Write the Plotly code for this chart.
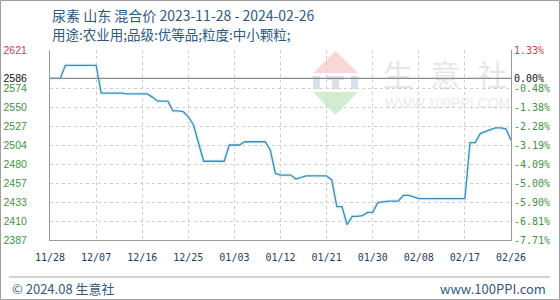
import pandas as pd
import plotly.graph_objects as go

# ---------------- data ----------------
START = "2023-11-28"
END = "2024-02-26"
prices = [2586, 2586, 2586, 2602, 2602, 2602, 2602, 2602, 2602, 2602,
          2568, 2568, 2568, 2568, 2568, 2567, 2567, 2567, 2567, 2567,
          2563, 2558, 2558, 2558, 2546, 2546, 2545, 2539, 2529, 2508,
          2484, 2484, 2484, 2484, 2484, 2504, 2504, 2504, 2508, 2508,
          2508, 2508, 2508, 2498, 2469, 2467, 2467, 2467, 2462, 2464,
          2466, 2466, 2466, 2466, 2466, 2461, 2428, 2428, 2406, 2416,
          2416, 2417, 2421, 2421, 2433, 2434, 2435, 2435, 2435, 2442,
          2442, 2440, 2438, 2438, 2438, 2438, 2438, 2438, 2438, 2438,
          2438, 2438, 2507, 2507, 2518, 2521, 2523, 2525, 2525, 2524,
          2510]
dates = pd.date_range(START, END, freq="D")

BASE = 2586
y_ticks = [2621, 2586, 2574, 2550, 2527, 2504, 2480, 2457, 2433, 2410, 2387]
pct_ticks = ["1.33%", "0.00%", "-0.48%", "-1.38%", "-2.28%", "-3.19%",
             "-4.09%", "-5.00%", "-5.90%", "-6.81%", "-7.71%"]
x_ticks = pd.date_range(START, END, freq="9D")

title1 = "尿素 山东 混合价 2023-11-28 - 2024-02-26"
title2 = "用途:农业用;品级:优等品;粒度:中小颗粒;"
footer_left = "© 2024.08 生意社"
footer_right = "www.100PPI.com"

# ---------------- style ----------------
W, H = 560, 300
L, R, T, B = 50, 511, 50, 240
RED, GREEN, BLACK = "#d23c4c", "#3c963c", "#111111"
NAVY = "#2b5a84"


def col(v, ref):
    if v > ref:
        return RED
    if v == ref:
        return BLACK
    return GREEN


def px(x):
    return (x - L) / (R - L)


def py(y):
    return (B - y) / (B - T)


left_text = [f'<span style="color:{col(v, BASE)}">{v}</span>' for v in y_ticks]
right_text = [f'<span style="color:{col(v, BASE)}">{t}</span>' for v, t in zip(y_ticks, pct_ticks)]

fig = go.Figure()
# soft glow under the line
fig.add_trace(go.Scatter(x=dates, y=prices, mode="lines",
                         line=dict(color="rgba(205,242,252,0.6)", width=4),
                         hoverinfo="skip", showlegend=False))
fig.add_trace(go.Scatter(x=dates, y=prices, mode="lines",
                         line=dict(color="#4288b3", width=1.3),
                         showlegend=False))
# invisible trace to activate right axis
fig.add_trace(go.Scatter(x=[dates[0]], y=[BASE], yaxis="y2", mode="markers",
                         marker=dict(opacity=0), hoverinfo="skip", showlegend=False))

yrange = [min(y_ticks), max(y_ticks)]
fig.update_layout(
    width=W, height=H,
    margin=dict(l=L, r=W - R, t=T, b=H - B, autoexpand=False),
    paper_bgcolor="white", plot_bgcolor="white",
    showlegend=False,
    xaxis=dict(type="date", range=[dates[0], dates[-1]],
               tickvals=x_ticks, tickformat="%m/%d",
               tickfont=dict(family="DejaVu Sans Mono", size=10, color="#1e3c64"),
               showgrid=True, gridcolor="#cfcfcf", griddash="dot", gridwidth=1,
               showline=True, linecolor="#9a9a9a", linewidth=1, automargin=False,
               ticks="", ticklabelstandoff=8, zeroline=False),
    yaxis=dict(range=yrange, tickvals=y_ticks, ticktext=left_text,
               tickfont=dict(family="Liberation Sans", size=10.5),
               showgrid=True, gridcolor="#cfcfcf", griddash="dot", gridwidth=1,
               showline=True, linecolor="#9a9a9a", linewidth=1, automargin=False,
               ticks="", ticklabelstandoff=20, zeroline=False),
    yaxis2=dict(range=yrange, tickvals=y_ticks, ticktext=right_text, overlaying="y",
                side="right", tickfont=dict(family="DejaVu Sans Mono", size=10),
                showgrid=False, showline=True, linecolor="#9a9a9a", linewidth=1,
                automargin=False, ticks="", zeroline=False),
)

shapes = []
# baseline
shapes.append(dict(type="line", xref="paper", yref="y", x0=0, x1=1, y0=BASE, y1=BASE,
                   line=dict(color="#8a8a8a", width=1.3)))


def path(pts):
    return "M " + " L ".join(f"{px(a):.4f},{py(b):.4f}" for a, b in pts) + " Z"


# watermark logo
shapes.append(dict(type="path", xref="paper", yref="paper", layer="below",
                   path=path([(313, 73), (358, 73), (335.5, 51)]),
                   fillcolor="rgba(238,120,120,0.3)", line=dict(width=0)))
for rect in [[(313, 76), (320, 76), (320, 89), (313, 89)],
             [(327, 76), (344, 76), (344, 80), (339, 80), (339, 89), (332, 89), (332, 80), (327, 80)],
             [(351, 76), (358, 76), (358, 89), (351, 89)]]:
    shapes.append(dict(type="path", xref="paper", yref="paper", layer="below",
                       path=path(rect), fillcolor="rgba(140,150,190,0.3)", line=dict(width=0)))
shapes.append(dict(type="path", xref="paper", yref="paper", layer="below",
                   path=path([(313, 92), (358, 92), (335.5, 115)]),
                   fillcolor="rgba(110,195,110,0.3)", line=dict(width=0)))
# footer separator
shapes.append(dict(type="line", xref="paper", yref="paper", x0=px(9), x1=px(550),
                   y0=py(277), y1=py(277), line=dict(color="#a8a8a8", width=1)))
# outer frame
shapes.append(dict(type="rect", xref="paper", yref="paper", x0=px(0.5), x1=px(559.5),
                   y0=py(0.5), y1=py(299.5), line=dict(color="#a0a0a0", width=1)))
fig.update_layout(shapes=shapes)

ann = []
ann.append(dict(text=title1, xref="paper", yref="paper", x=px(50), y=py(15),
                xanchor="left", yanchor="middle", showarrow=False,
                font=dict(family="Noto Sans CJK SC", size=14, color=NAVY)))
ann.append(dict(text=title2, xref="paper", yref="paper", x=px(50), y=py(33.5),
                xanchor="left", yanchor="middle", showarrow=False,
                font=dict(family="Noto Sans CJK SC", size=13.5, color=NAVY)))
for ch, cx in zip("生意社", [398, 445, 492]):
    ann.append(dict(text=ch, xref="paper", yref="paper", x=px(cx), y=py(73),
                    xanchor="center", yanchor="middle", showarrow=False,
                    font=dict(family="Noto Sans CJK SC", size=30, color="rgba(160,165,180,0.28)")))
ann.append(dict(text="WWW.100PPI.COM", xref="paper", yref="paper", x=px(447), y=py(103),
                xanchor="center", yanchor="middle", showarrow=False,
                font=dict(family="Liberation Sans", size=14, color="rgba(150,150,160,0.22)")))
ann.append(dict(text=footer_left, xref="paper", yref="paper", x=px(10), y=py(288),
                xanchor="left", yanchor="middle", showarrow=False,
                font=dict(family="Noto Sans CJK SC", size=13, color="#35597a")))
ann.append(dict(text=footer_right, xref="paper", yref="paper", x=px(548), y=py(288),
                xanchor="right", yanchor="middle", showarrow=False,
                font=dict(family="Noto Sans CJK SC", size=13, color="#35597a")))
fig.update_layout(annotations=ann)

fig.write_html("out.html")
